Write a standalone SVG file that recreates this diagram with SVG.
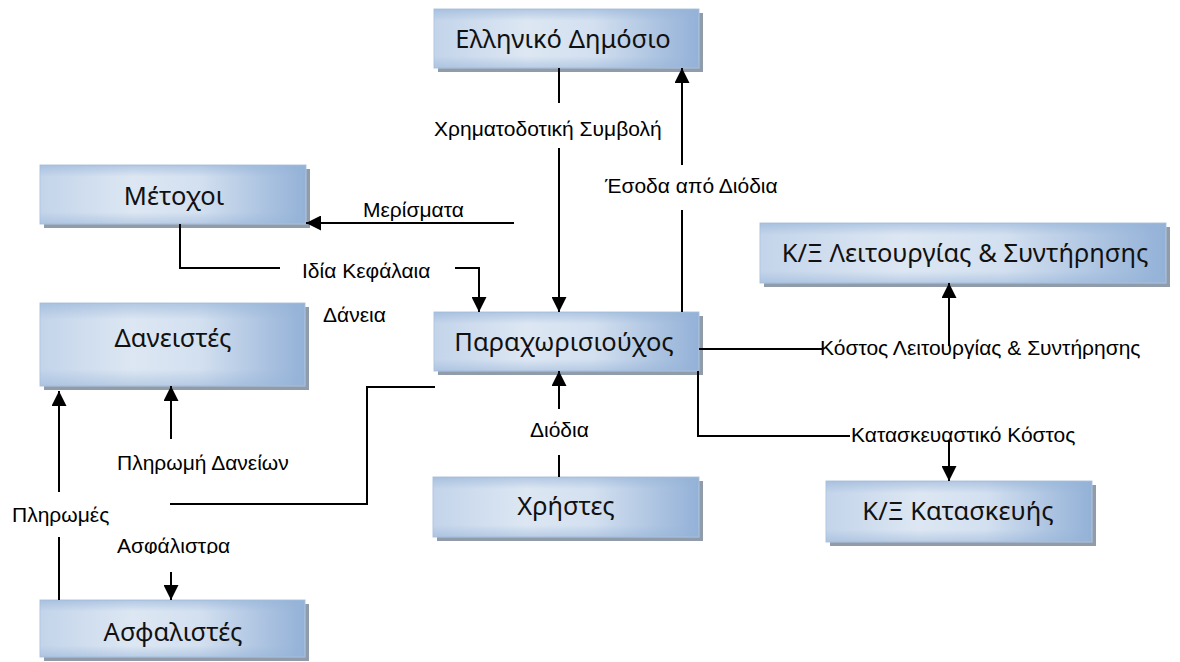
<svg xmlns="http://www.w3.org/2000/svg" width="1180" height="662" viewBox="0 0 1180 662">
<defs>
<linearGradient id="gh" x1="0" y1="0" x2="1" y2="0">
<stop offset="0" stop-color="#c3d4ea"/>
<stop offset="0.35" stop-color="#dde7f3"/>
<stop offset="0.6" stop-color="#d3e0f0"/>
<stop offset="1" stop-color="#93b1d7"/>
</linearGradient>
<linearGradient id="gv" x1="0" y1="0" x2="0" y2="1">
<stop offset="0" stop-color="#95b3d7" stop-opacity="0.6"/>
<stop offset="0.2" stop-color="#95b3d7" stop-opacity="0"/>
<stop offset="0.8" stop-color="#95b3d7" stop-opacity="0"/>
<stop offset="1" stop-color="#95b3d7" stop-opacity="0.5"/>
</linearGradient>
<marker id="ah" markerUnits="userSpaceOnUse" markerWidth="15" markerHeight="15" viewBox="0 0 15 15" refX="15" refY="7.5" orient="auto">
<path d="M0,0 L15,7.5 L0,15 z" fill="#000"/>
</marker>
<clipPath id="clipA"><rect x="100" y="530" width="160" height="24"/></clipPath>
</defs>
<style>
.sh{fill:#919cab}
.bx{fill:url(#gh);stroke:#b4c8e2;stroke-width:1}
.ov{fill:url(#gv)}
.nt{font-family:"Noto Sans","Open Sans",sans-serif;font-size:25.5px;fill:#111;text-anchor:middle}
.lb{font-family:"Liberation Sans",Arial,sans-serif;font-size:21px;fill:#000}
.c{fill:none;stroke:#000;stroke-width:2}
.a{marker-end:url(#ah)}
</style>
<g id="n-dimosio">
<rect class="sh" x="438" y="13" width="265" height="59"/>
<rect class="bx" x="434" y="9" width="265" height="59"/>
<rect class="ov" x="434" y="9" width="265" height="59"/>
<text class="nt" x="563" y="48">Ελληνικό Δημόσιο</text>
</g>
<g id="n-metochoi">
<rect class="sh" x="44" y="169" width="266" height="59"/>
<rect class="bx" x="40" y="165" width="266" height="59"/>
<rect class="ov" x="40" y="165" width="266" height="59"/>
<text class="nt" x="174" y="205">Μέτοχοι</text>
</g>
<g id="n-daneistes">
<rect class="sh" x="44" y="307" width="265" height="83"/>
<rect class="bx" x="40" y="303" width="265" height="83"/>
<rect class="ov" x="40" y="303" width="265" height="83"/>
<text class="nt" x="173" y="347">Δανειστές</text>
</g>
<g id="n-asfalistes">
<rect class="sh" x="44" y="604" width="265" height="57"/>
<rect class="bx" x="40" y="600" width="265" height="57"/>
<rect class="ov" x="40" y="600" width="265" height="57"/>
<text class="nt" x="173" y="641">Ασφαλιστές</text>
</g>
<g id="n-parachoris">
<rect class="sh" x="438" y="316" width="265" height="59"/>
<rect class="bx" x="434" y="312" width="265" height="59"/>
<rect class="ov" x="434" y="312" width="265" height="59"/>
<text class="nt" x="564" y="351">Παραχωρισιούχος</text>
</g>
<g id="n-xristes">
<rect class="sh" x="437" y="481" width="266" height="60"/>
<rect class="bx" x="433" y="477" width="266" height="60"/>
<rect class="ov" x="433" y="477" width="266" height="60"/>
<text class="nt" x="566" y="515">Χρήστες</text>
</g>
<g id="n-leitourgia">
<rect class="sh" x="764" y="227" width="406" height="60"/>
<rect class="bx" x="760" y="223" width="406" height="60"/>
<rect class="ov" x="760" y="223" width="406" height="60"/>
<text class="nt" x="965" y="262">Κ/Ξ Λειτουργίας &amp; Συντήρησης</text>
</g>
<g id="n-kataskeui">
<rect class="sh" x="830" y="485" width="266" height="61"/>
<rect class="bx" x="826" y="481" width="266" height="61"/>
<rect class="ov" x="826" y="481" width="266" height="61"/>
<text class="nt" x="958" y="520">Κ/Ξ Κατασκευής</text>
</g>
<g id="connectors">
<path class="c" d="M559,68 V103"/>
<path class="c a" d="M559,148 V312"/>
<path class="c" d="M682,312 V210"/>
<path class="c a" d="M682,165 V68"/>
<path class="c a" d="M514,223 H306"/>
<path class="c" d="M180,224 V268 H280"/>
<path class="c a" d="M455,268 H479 V312"/>
<path class="c" d="M435,387 H367 V504 H170"/>
<path class="c a" d="M171,439 V386"/>
<path class="c" d="M59,600 V537"/>
<path class="c a" d="M59,492 V391"/>
<path class="c a" d="M171,572 V600"/>
<path class="c" d="M559,477 V455"/>
<path class="c a" d="M559,409 V371"/>
<path class="c" d="M699,349 H822"/>
<path class="c a" d="M949,346 V283"/>
<path class="c" d="M698,371 V436 H850"/>
<path class="c a" d="M949,440 V481"/>
</g>
<g id="labels">
<text class="lb" x="434" y="136">Χρηματοδοτική Συμβολή</text>
<text class="lb" x="605" y="193">Έσοδα από Διόδια</text>
<text class="lb" x="363" y="217">Μερίσματα</text>
<text class="lb" x="302" y="278">Ιδία Κεφάλαια</text>
<text class="lb" x="323" y="322">Δάνεια</text>
<text class="lb" x="530" y="437">Διόδια</text>
<text class="lb" x="117" y="470">Πληρωμή Δανείων</text>
<text class="lb" x="12" y="522">Πληρωμές</text>
<text class="lb" x="117" y="553" clip-path="url(#clipA)">Ασφάλιστρα</text>
<text class="lb" x="820" y="355">Κόστος Λειτουργίας &amp; Συντήρησης</text>
<text class="lb" x="851" y="442">Κατασκευαστικό Κόστος</text>
</g>
</svg>
